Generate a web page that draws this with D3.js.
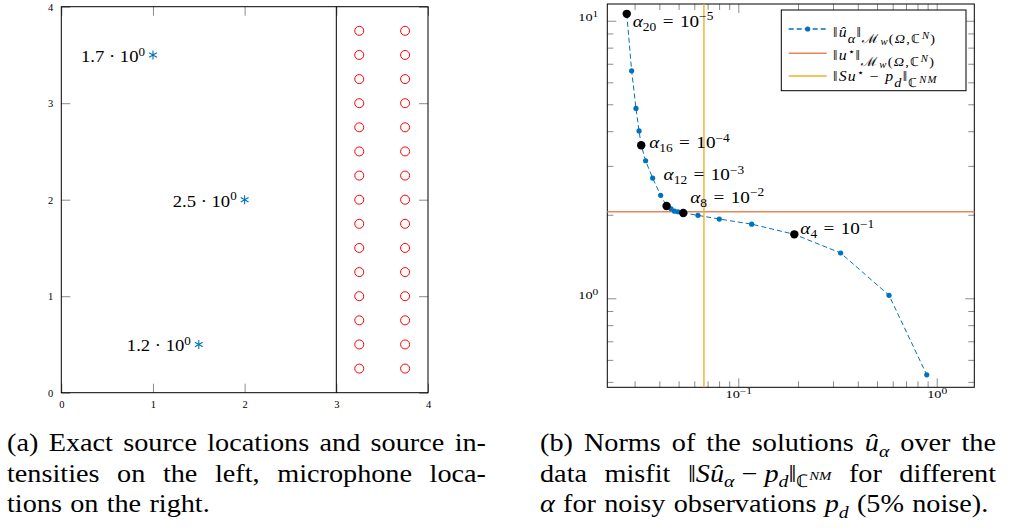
<!DOCTYPE html>
<html>
<head>
<meta charset="utf-8">
<script src="https://cdn.jsdelivr.net/npm/d3@7"></script>
<style>
    body { margin: 0; background: #fff; }
    svg { display: block; font-family: "Liberation Serif", serif; }
    .tick line { stroke: #8c8c8c; }
    .tick text { fill: #000; }
</style>
</head>
<body>
<svg id="chart" width="1009" height="528"></svg>
<script>
// (a) sources and microphones
const sourceX = [1, 2, 1.5];
const sourceY = [3.5, 2, 0.5];
const sourceIntensity = [1.7, 2.5, 1.2];
const micX = [3.25, 3.75];
const micY = [0.25, 0.5, 0.75, 1, 1.25, 1.5, 1.75, 2, 2.25, 2.5, 2.75, 3, 3.25, 3.5, 3.75];
const leftTicks = [0, 1, 2, 3, 4];
const dividerX = 3;

// (b) norm over data misfit, alpha_20 ... alpha_1
const alphaIndex = [20, 19, 18, 17, 16, 15, 14, 13, 12, 11, 10, 9, 8, 7, 6, 5, 4, 3, 2, 1];
const misfit = [0.0274, 0.0290, 0.0305, 0.0316, 0.0324, 0.0341, 0.0370, 0.0406, 0.0435, 0.0458,
                0.0477, 0.0497, 0.0528, 0.0626, 0.0802, 0.1168, 0.1916, 0.328, 0.575, 0.891];
const normU = [10.59, 6.60, 4.83, 4.01, 3.56, 3.13, 2.71, 2.35, 2.15, 2.10,
               2.06, 2.05, 2.03, 1.99, 1.93, 1.85, 1.70, 1.456, 1.025, 0.530];
const markedAlpha = [20, 16, 12, 8, 4];
const markedExponent = [-5, -4, -3, -2, -1];
const trueNorm = 2.05;
const trueMisfit = 0.0671;
const xMajor = [0.1, 1];
const yMajor = [1, 10];

const blue = "#0072bd";
const orange = "#e9855a";
const yellow = "#efb02a";
// Liberation Serif is narrower than Computer Modern
const stretch = 1.13;
const tickStretch = 1.3;
const majorLen = 9, minorLen = 6;

const svg = d3.select("#chart");

// text with sub/superscripts, parts = [{t, i, s}]
function richText(sel, parts, size, opts = {})
{
    const subShift = opts.subShift ?? 0.22;
    const subScale = opts.subScale ?? 0.7;
    const supScale = opts.supScale ?? 0.7;
    const shifts = { sup: -0.38, sub: subShift, subsub: subShift + 0.16, subsup: subShift - 0.3 };
    const scales = { sup: supScale, sub: subScale, subsub: subScale * 0.75, subsup: subScale * 0.75 };
    let shift = 0;
    parts.forEach((p) => {
        const target = p.s ? shifts[p.s] * size : 0;
        const ts = sel.append("tspan")
            .text(p.t)
            .attr("dy", target - shift)
            .style("font-size", `${p.s ? scales[p.s] * size : size}px`);
        if (p.i)
            ts.style("font-style", "italic");
        shift = target;
    });
}

// text placed with a horizontal stretch, x/y is the anchor point
function stretchedText(parent, x, y, parts, size, anchor, opts)
{
    const t = parent.append("text")
        .attr("transform", `translate(${x}, ${y}) scale(${stretch}, 1)`)
        .attr("text-anchor", anchor || "start");
    richText(t, parts, size, opts);
    return t;
}

function cleanAxis(g, size)
{
    g.select(".domain").remove();
    g.attr("font-family", null).attr("font-size", size);
}

/* ---------- panel (a) ---------- */
const xL = d3.scaleLinear().domain([0, 4]).range([61.3, 428]);
const yL = d3.scaleLinear().domain([0, 4]).range([392.7, 6.7]);
const gA = svg.append("g");

gA.append("g")
    .attr("transform", `translate(0, ${yL(0)})`)
    .call(d3.axisBottom(xL).tickValues(leftTicks).tickSize(-majorLen).tickPadding(8).tickFormat(d3.format("d")))
    .call(cleanAxis, 10.5);
gA.append("g")
    .attr("transform", `translate(0, ${yL(4)})`)
    .call(d3.axisTop(xL).tickValues(leftTicks).tickSize(-majorLen).tickFormat(""))
    .call(cleanAxis, 10.5);
gA.append("g")
    .attr("transform", `translate(${xL(0)}, 0)`)
    .call(d3.axisLeft(yL).tickValues(leftTicks).tickSize(-majorLen).tickPadding(8).tickFormat(d3.format("d")))
    .call(cleanAxis, 10.5);
gA.append("g")
    .attr("transform", `translate(${xL(4)}, 0)`)
    .call(d3.axisRight(yL).tickValues(leftTicks).tickSize(-majorLen).tickFormat(""))
    .call(cleanAxis, 10.5);

gA.append("rect")
    .attr("x", xL(0)).attr("y", yL(4))
    .attr("width", xL(4) - xL(0)).attr("height", yL(0) - yL(4))
    .attr("fill", "none").attr("stroke", "#000");

gA.append("line")
    .attr("x1", xL(dividerX)).attr("x2", xL(dividerX))
    .attr("y1", yL(0)).attr("y2", yL(4))
    .attr("stroke", "#000");

const mics = micX.flatMap((x) => micY.map((y) => ({ x, y })));
gA.selectAll("circle.mic")
    .data(mics)
    .enter()
    .append("circle")
    .attr("class", "mic")
    .attr("cx", (d) => xL(d.x))
    .attr("cy", (d) => yL(d.y))
    .attr("r", 4.5)
    .attr("fill", "none")
    .attr("stroke", "#ff0000")
    .attr("stroke-width", 1);

const asterisk = {
    draw(ctx, size)
    {
        const r = Math.sqrt(size) / 2;
        for (let k = 0; k < 3; ++k)
        {
            const a = Math.PI / 2 + k * Math.PI / 3;
            ctx.moveTo(r * Math.cos(a), r * Math.sin(a));
            ctx.lineTo(-r * Math.cos(a), -r * Math.sin(a));
        }
    }
};

sourceX.forEach((sx, i) => {
    const px = xL(sx), py = yL(sourceY[i]);
    gA.append("path")
        .attr("d", d3.symbol(asterisk, 81)())
        .attr("transform", `translate(${px}, ${py})`)
        .attr("fill", "none")
        .attr("stroke", blue)
        .attr("stroke-width", 1.1);
    stretchedText(gA, px - 8, py + 7,
        [{ t: `${d3.format(".1f")(sourceIntensity[i])} · 10` }, { t: "0", s: "sup" }], 16.5, "end");
});

/* ---------- panel (b) ---------- */
const xR = d3.scaleLog().domain([0.02186, 1.547]).range([607.3, 974.3]);
const yR = d3.scaleLog().domain([0.4779, 11.49]).range([387.3, 4]);
const xMinor = xR.ticks().filter((d) => !xMajor.includes(d));
const yMinor = yR.ticks().filter((d) => !yMajor.includes(d));
const gB = svg.append("g");

// 10^k tick labels, widened like the small TeX fonts
function powerLabels(g)
{
    g.selectAll(".tick text").each((d, i, nodes) => {
        const t = d3.select(nodes[i]);
        const e = Math.round(Math.log10(d));
        t.text("").attr("transform", `scale(${tickStretch}, 1)`);
        richText(t, [{ t: "10" }, { t: `${e}`.replace("-", "−"), s: "sup" }], 11, { supScale: 0.8 });
    });
}

const plotBottom = yR.range()[0], plotTop = yR.range()[1];
const plotLeft = xR.range()[0], plotRight = xR.range()[1];

[[d3.axisBottom, plotBottom, true], [d3.axisTop, plotTop, false]].forEach(([axis, y, labels]) => {
    gB.append("g")
        .attr("transform", `translate(0, ${y})`)
        .call(axis(xR).tickValues(xMinor).tickSize(-minorLen).tickFormat(""))
        .call(cleanAxis, 11);
    const g = gB.append("g")
        .attr("transform", `translate(0, ${y})`)
        .call(axis(xR).tickValues(xMajor).tickSize(-majorLen).tickPadding(11).tickFormat(labels ? String : ""))
        .call(cleanAxis, 11);
    if (labels)
        g.call(powerLabels);
});

[[d3.axisLeft, plotLeft, true], [d3.axisRight, plotRight, false]].forEach(([axis, x, labels]) => {
    gB.append("g")
        .attr("transform", `translate(${x}, 0)`)
        .call(axis(yR).tickValues(yMinor).tickSize(-minorLen).tickFormat(""))
        .call(cleanAxis, 11);
    const g = gB.append("g")
        .attr("transform", `translate(${x}, 0)`)
        .call(axis(yR).tickValues(yMajor).tickSize(-majorLen).tickPadding(9 / tickStretch).tickFormat(labels ? String : ""))
        .call(cleanAxis, 11);
    if (labels)
        g.call(powerLabels);
});

gB.append("rect")
    .attr("x", plotLeft).attr("y", plotTop)
    .attr("width", plotRight - plotLeft).attr("height", plotBottom - plotTop)
    .attr("fill", "none").attr("stroke", "#000");

gB.append("line")
    .attr("x1", plotLeft).attr("x2", plotRight)
    .attr("y1", yR(trueNorm)).attr("y2", yR(trueNorm))
    .attr("stroke", orange).attr("stroke-width", 1.4);
gB.append("line")
    .attr("x1", xR(trueMisfit)).attr("x2", xR(trueMisfit))
    .attr("y1", plotTop).attr("y2", plotBottom)
    .attr("stroke", yellow).attr("stroke-width", 1.4);

const curve = alphaIndex.map((k, i) => ({ k, x: misfit[i], y: normU[i] }));

gB.append("path")
    .datum(curve)
    .attr("d", d3.line().x((d) => xR(d.x)).y((d) => yR(d.y)))
    .attr("fill", "none")
    .attr("stroke", blue)
    .attr("stroke-width", 1)
    .attr("stroke-dasharray", "5,3");

gB.selectAll("circle.pt")
    .data(curve)
    .enter()
    .append("circle")
    .attr("class", "pt")
    .attr("cx", (d) => xR(d.x))
    .attr("cy", (d) => yR(d.y))
    .attr("r", 2.6)
    .attr("fill", blue);

// label offsets for the marked alphas
const labelDx = [6, 8, -3, 7, 6];
const labelDy = [13, 3, -26, -10, 0];

markedAlpha.forEach((k, j) => {
    const d = curve.find((c) => c.k === k);
    gB.append("circle")
        .attr("cx", xR(d.x))
        .attr("cy", yR(d.y))
        .attr("r", 4.2)
        .attr("fill", "#000");
    stretchedText(gB, xR(d.x) + labelDx[j], yR(d.y) + labelDy[j], [
        { t: "α", i: true },
        { t: `${k}`, s: "sub" },
        { t: "\u2004=\u200410" },
        { t: `${markedExponent[j]}`.replace("-", "−"), s: "sup" }
    ], 17);
});

// legend
const legend = gB.append("g").attr("transform", "translate(781.3, 10)");
legend.append("rect")
    .attr("width", 184.7).attr("height", 80.7)
    .attr("fill", "#fff").attr("stroke", "#000");

const legendRows = [
    [{ t: "‖" }, { t: "û", i: true }, { t: "α", i: true, s: "sub" }, { t: "‖" }, { t: "ℳ", s: "sub" },
     { t: "w", i: true, s: "subsub" }, { t: "(", s: "sub" }, { t: "Ω", i: true, s: "sub" }, { t: ",ℂ", s: "sub" },
     { t: "N", i: true, s: "subsup" }, { t: ")", s: "sub" }],
    [{ t: "‖" }, { t: "u", i: true }, { t: "⋆", s: "sup" }, { t: "‖" }, { t: "ℳ", s: "sub" },
     { t: "w", i: true, s: "subsub" }, { t: "(", s: "sub" }, { t: "Ω", i: true, s: "sub" }, { t: ",ℂ", s: "sub" },
     { t: "N", i: true, s: "subsup" }, { t: ")", s: "sub" }],
    [{ t: "‖" }, { t: "Su", i: true }, { t: "⋆", s: "sup" }, { t: " − " }, { t: "p", i: true },
     { t: "d", i: true, s: "sub" }, { t: "‖" }, { t: "ℂ", s: "sub" }, { t: "NM", i: true, s: "subsup" }]
];
const legendLineY = [19, 43.3, 66];
const legendTextY = [27.3, 50, 71];
const legendColors = [blue, orange, yellow];

legendRows.forEach((row, i) => {
    legend.append("line")
        .attr("x1", 7.4).attr("x2", 45.4)
        .attr("y1", legendLineY[i]).attr("y2", legendLineY[i])
        .attr("stroke", legendColors[i])
        .attr("stroke-width", 1.5)
        .attr("stroke-dasharray", i === 0 ? "5,3" : null);
    if (i === 0)
        legend.append("circle")
            .attr("cx", 26.4).attr("cy", legendLineY[i])
            .attr("r", 2.6).attr("fill", blue);
    stretchedText(legend, 51.7, legendTextY[i], row, 14, "start", { subShift: 0.42, subScale: 0.9 })
        .style("letter-spacing", "1.1px");
});

/* ---------- captions ---------- */
const captionA = [
    [[{ t: "(a)" }], [{ t: "Exact" }], [{ t: "source" }], [{ t: "locations" }], [{ t: "and" }], [{ t: "source" }], [{ t: "in-" }]],
    [[{ t: "tensities" }], [{ t: "on" }], [{ t: "the" }], [{ t: "left," }], [{ t: "microphone" }], [{ t: "loca-" }]],
    [[{ t: "tions" }], [{ t: "on" }], [{ t: "the" }], [{ t: "right." }]]
];
const captionB = [
    [[{ t: "(b)" }], [{ t: "Norms" }], [{ t: "of" }], [{ t: "the" }], [{ t: "solutions" }],
     [{ t: "û", i: true }, { t: "α", i: true, s: "sub" }], [{ t: "over" }], [{ t: "the" }]],
    [[{ t: "data" }], [{ t: "misfit" }],
     [{ t: "‖" }, { t: "S", i: true }, { t: "û", i: true }, { t: "α", i: true, s: "sub" }, { t: " − " },
      { t: "p", i: true }, { t: "d", i: true, s: "sub" }, { t: "‖" }, { t: "ℂ", s: "sub" }, { t: "NM", i: true, s: "subsup" }],
     [{ t: "for" }], [{ t: "different" }]],
    [[{ t: "α", i: true }], [{ t: "for" }], [{ t: "noisy" }], [{ t: "observations" }],
     [{ t: "p", i: true }, { t: "d", i: true, s: "sub" }], [{ t: "(5%" }], [{ t: "noise)." }]]
];
const captionY = [451, 481.5, 512];
const captionSize = 25;

function drawCaption(lines, x0, x1)
{
    lines.forEach((words, li) => {
        const nodes = words.map((w) => stretchedText(svg, 0, captionY[li], w, captionSize));
        const widths = nodes.map((n) => n.node().getComputedTextLength() * stretch);
        const justify = li < lines.length - 1;
        const gap = justify ? (x1 - x0 - d3.sum(widths)) / (words.length - 1) : captionSize * 0.33;
        let x = x0;
        nodes.forEach((n, i) => {
            n.attr("transform", `translate(${x}, ${captionY[li]}) scale(${stretch}, 1)`);
            x += widths[i] + gap;
        });
    });
}

drawCaption(captionA, 7, 486);
drawCaption(captionB, 540, 996);
</script>
</body>
</html>
